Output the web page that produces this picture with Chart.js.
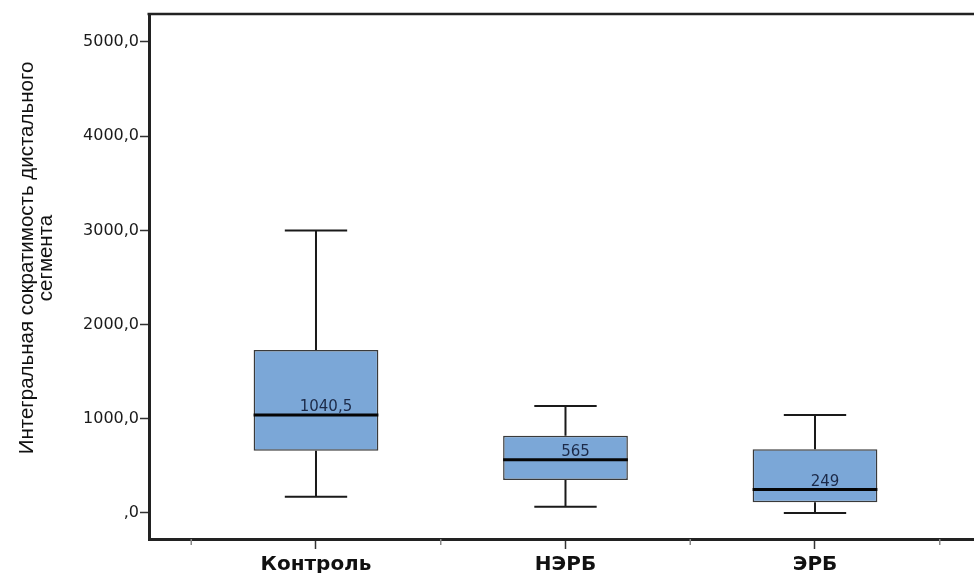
<!DOCTYPE html>
<html>
<head>
<meta charset="utf-8">
<script src="https://cdn.jsdelivr.net/npm/chart.js@4.4.1/dist/chart.umd.min.js"></script>
<style>
  html, body { margin: 0; padding: 0; background: #ffffff; overflow: hidden; }
  canvas { display: block; }
</style>
</head>
<body>
<canvas id="box" width="974" height="573"></canvas>
<script>
// Groups and their five-number summaries
const groups      = ['Контроль', 'НЭРБ', 'ЭРБ'];
const whiskerLow  = [173, 67, 0];
const quartile1   = [661, 350, 114];
const medians     = [1040.5, 565, 249];
const quartile3   = [1730, 821, 676];
const whiskerHigh = [3000, 1136, 1040];

// Value axis ticks and their printed labels
const yTickValues = [0, 1000, 2000, 3000, 4000, 5000];
const yTickLabels = [',0', '1000,0', '2000,0', '3000,0', '4000,0', '5000,0'];

const axisTitleLines = ['Интегральная сократимость дистального', 'сегмента'];

const fmtComma = v => String(v).replace('.', ',');

// Whiskers, medians, median labels, frame top edge and minor x ticks
const boxExtras = {
  id: 'boxExtras',
  afterDatasetsDraw(chart) {
    const { ctx, scales: { x, y }, chartArea } = chart;
    ctx.save();
    groups.forEach((g, i) => {
      const cx = x.getPixelForValue(i);
      const halfBox = x.getPixelForValue(i + 0.25) - cx;
      const halfCap = x.getPixelForValue(i + 0.125) - cx;
      const yLo = y.getPixelForValue(whiskerLow[i]);
      const yQ1 = y.getPixelForValue(quartile1[i]);
      const yQ3 = y.getPixelForValue(quartile3[i]);
      const yHi = y.getPixelForValue(whiskerHigh[i]);
      const yMed = y.getPixelForValue(medians[i]);

      ctx.strokeStyle = '#1a1a1a';
      ctx.lineWidth = 2;
      ctx.beginPath();
      ctx.moveTo(cx, yQ3); ctx.lineTo(cx, yHi);
      ctx.moveTo(cx - halfCap, yHi); ctx.lineTo(cx + halfCap, yHi);
      ctx.moveTo(cx, yQ1); ctx.lineTo(cx, yLo);
      ctx.moveTo(cx - halfCap, yLo); ctx.lineTo(cx + halfCap, yLo);
      ctx.stroke();

      ctx.strokeStyle = '#050505';
      ctx.lineWidth = 3;
      ctx.beginPath();
      ctx.moveTo(cx - halfBox, yMed); ctx.lineTo(cx + halfBox, yMed);
      ctx.stroke();

      ctx.fillStyle = '#1c2a48';
      ctx.font = '15px "DejaVu Sans", sans-serif';
      ctx.textAlign = 'center';
      ctx.textBaseline = 'alphabetic';
      ctx.fillText(fmtComma(medians[i]), x.getPixelForValue(i + 0.04), yMed - 4);
    });

    // top edge of the frame
    ctx.strokeStyle = '#222222';
    ctx.lineWidth = 2.5;
    ctx.beginPath();
    ctx.moveTo(chartArea.left - 1.5, chartArea.top);
    ctx.lineTo(chartArea.right, chartArea.top);
    ctx.stroke();

    // short ticks between groups
    ctx.strokeStyle = '#8a8a8a';
    ctx.lineWidth = 1.5;
    ctx.beginPath();
    for (let k = 0; k <= groups.length; k++) {
      const px = x.getPixelForValue(k - 0.5);
      ctx.moveTo(px, chartArea.bottom);
      ctx.lineTo(px, chartArea.bottom + 6);
    }
    ctx.stroke();

    // rotated value-axis title
    ctx.fillStyle = '#111111';
    ctx.font = '20.5px "Liberation Sans", Arial, sans-serif';
    ctx.textAlign = 'center';
    ctx.textBaseline = 'middle';
    ctx.translate(0, 258);
    ctx.rotate(-Math.PI / 2);
    ctx.fillText(axisTitleLines[0], 0, 27);
    ctx.fillText(axisTitleLines[1], 0, 46);
    ctx.restore();
  }
};

new Chart(document.getElementById('box'), {
  type: 'bar',
  data: {
    datasets: [{
      data: groups.map((g, i) => ({ x: i, y: [quartile1[i], quartile3[i]] })),
      backgroundColor: '#7ba7d7',
      borderColor: '#3a3a3a',
      borderWidth: 1.5,
      borderSkipped: false,
      barPercentage: 0.5,
      categoryPercentage: 1.0
    }]
  },
  options: {
    responsive: false,
    animation: false,
    devicePixelRatio: 1,
    layout: { padding: { top: 14, left: 0, right: 0, bottom: 0 } },
    plugins: { legend: { display: false }, tooltip: { enabled: false } },
    scales: {
      x: {
        type: 'linear',
        offset: false,
        min: -0.6693,
        max: 2.6373,
        afterBuildTicks: s => { s.ticks = groups.map((g, i) => ({ value: i })); },
        afterFit: s => { s.height = 34; },
        ticks: {
          callback: v => groups[v],
          color: '#111111',
          font: { family: '"DejaVu Sans", sans-serif', size: 20, weight: 'bold' },
          padding: 4,
          maxRotation: 0,
          autoSkip: false
        },
        grid: { offset: false, drawOnChartArea: false, tickLength: 10, tickColor: '#333333', tickWidth: 1.5 },
        border: { color: '#222222', width: 3 }
      },
      y: {
        min: -276,
        max: 5297,
        afterBuildTicks: s => { s.ticks = yTickValues.map(v => ({ value: v })); },
        afterFit: s => { s.width = 149; },
        ticks: {
          callback: v => yTickLabels[yTickValues.indexOf(v)],
          color: '#1a1a1a',
          font: { family: '"DejaVu Sans", sans-serif', size: 16 },
          padding: 1
        },
        grid: { drawOnChartArea: false, tickLength: 9, tickColor: '#333333', tickWidth: 1.5 },
        border: { color: '#222222', width: 3 }
      }
    }
  },
  plugins: [boxExtras]
});
</script>
</body>
</html>
